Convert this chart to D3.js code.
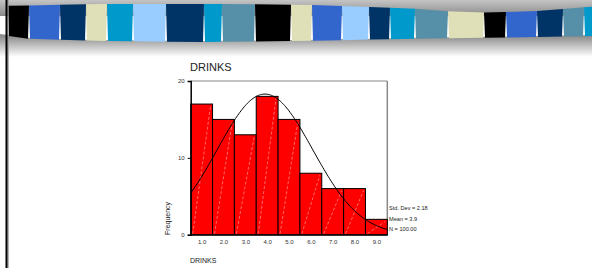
<!DOCTYPE html>
<html>
<head>
<meta charset="utf-8">
<script src="https://d3js.org/d3.v7.min.js"></script>
<style>
  body { margin: 0; background: #fff; }
  #chart { width: 592px; height: 268px; }
  text { font-family: "Liberation Sans", Arial, sans-serif; }
</style>
</head>
<body>
<div id="chart"></div>
<script>
// histogram data
const bins = [1, 2, 3, 4, 5, 6, 7, 8, 9];
const counts = [17, 15, 13, 18, 15, 8, 6, 6, 2];
const xTicks = ["1.0", "2.0", "3.0", "4.0", "5.0", "6.0", "7.0", "8.0", "9.0"];
const yTicks = [0, 10, 20];
const stats = ["Std. Dev = 2.18", "Mean = 3.9", "N = 100.00"];
const mean = 3.9, sd = 2.18, n = 100;

// banner decoration
const bannerColors = ["#000000", "#3366cc", "#003366", "#e0e0b8", "#0099cc", "#99ccff", "#003366",
  "#0099cc", "#5590a8", "#000000", "#e0e0b8", "#3366cc", "#99ccff", "#003366", "#0099cc",
  "#5590a8", "#e0e0b8", "#000000", "#3366cc", "#003366", "#5590a8", "#0099cc"];
const bannerEdges = [8, 29, 60, 86, 107, 133, 166, 204, 222, 255, 291, 312, 342, 369, 390,
  415, 448, 484, 506, 537, 563, 584, 600];

const W = 592, H = 268;
const svg = d3.select("#chart").append("svg")
  .attr("width", W).attr("height", H);

const defs = svg.append("defs");
const g1 = defs.append("linearGradient").attr("id", "topband")
  .attr("x1", 0).attr("y1", 0).attr("x2", 0).attr("y2", 1);
g1.append("stop").attr("offset", "0%").attr("stop-color", "#c4c4c4");
g1.append("stop").attr("offset", "100%").attr("stop-color", "#8a8a8a");
const g2 = defs.append("linearGradient").attr("id", "shadow")
  .attr("gradientUnits", "userSpaceOnUse")
  .attr("x1", 0).attr("y1", 36).attr("x2", 0).attr("y2", 57);
g2.append("stop").attr("offset", "0%").attr("stop-color", "#8c8c8c");
g2.append("stop").attr("offset", "100%").attr("stop-color", "#ffffff");

// wavy edges of the strip
const topY = d3.scaleLinear().domain([0, 100, 220, 320, 420, 470, 540, 600]).range([6, 4, 4, 5, 9, 13, 11, 6]);
const botY = d3.scaleLinear().domain([0, 30, 100, 200, 300, 400, 470, 600]).range([35, 39, 41, 42, 41, 39, 38, 36]);

svg.append("rect").attr("x", 0).attr("y", 0).attr("width", W).attr("height", 16)
  .attr("fill", "url(#topband)");

const shadowPts = d3.range(0, W + 1, 8).map(x => [x, botY(x) - 1]);
svg.append("path")
  .attr("d", d3.line()(shadowPts.concat([[W, 58], [0, 58]])) + "Z")
  .attr("fill", "url(#shadow)");

svg.append("g").selectAll("path")
  .data(bannerColors)
  .join("path")
  .attr("fill", d => d)
  .attr("d", (d, i) => {
    const a = bannerEdges[i], b = bannerEdges[i + 1];
    return d3.line()([[a, topY(a)], [b, topY(b)], [b - 1, botY(b)], [a + 1, botY(a)]]) + "Z";
  });

// left border line
svg.append("rect").attr("x", 5.5).attr("y", 0).attr("width", 2.2).attr("height", H).attr("fill", "#000");
svg.append("rect").attr("x", 7.7).attr("y", 0).attr("width", 1).attr("height", H).attr("fill", "#999");

// chart
const x = d3.scaleLinear().domain([0.5, 9.5]).range([190.7, 387.3]);
const y = d3.scaleLinear().domain([0, 20]).range([234.7, 81]);

// frame
svg.append("line").attr("x1", x(0.5)).attr("x2", x(9.5)).attr("y1", y(20)).attr("y2", y(20))
  .attr("stroke", "#888").attr("stroke-width", 1);
svg.append("line").attr("x1", x(9.5)).attr("x2", x(9.5)).attr("y1", y(20)).attr("y2", y(0))
  .attr("stroke", "#888").attr("stroke-width", 1.5);

// bars
const bars = svg.append("g");
bars.selectAll("rect")
  .data(bins)
  .join("rect")
  .attr("x", d => x(d - 0.5))
  .attr("width", d => x(d + 0.5) - x(d - 0.5))
  .attr("y", (d, i) => y(counts[i]))
  .attr("height", (d, i) => y(0) - y(counts[i]))
  .attr("fill", "#ff0000")
  .attr("stroke", "#000")
  .attr("stroke-width", 1);

bars.selectAll("line")
  .data(bins)
  .join("line")
  .attr("x1", d => x(d - 0.5) + 2)
  .attr("y1", y(0) - 1)
  .attr("x2", d => x(d + 0.5) - 2)
  .attr("y2", (d, i) => y(counts[i]) + 2)
  .attr("stroke", "#ffb0b0")
  .attr("stroke-width", 0.6)
  .attr("stroke-dasharray", "3,2");

// fitted normal curve
const curvePts = d3.range(0.5, 9.501, 0.05).map(v =>
  [v, n / (sd * Math.sqrt(2 * Math.PI)) * Math.exp(-0.5 * Math.pow((v - mean) / sd, 2))]);
svg.append("path")
  .datum(curvePts)
  .attr("d", d3.line().x(d => x(d[0])).y(d => y(d[1])))
  .attr("fill", "none")
  .attr("stroke", "#000")
  .attr("stroke-width", 1);

// axes
const yAxis = svg.append("g").attr("transform", `translate(${x(0.5)},0)`)
  .call(d3.axisLeft(y).tickValues(yTicks).tickSize(3).tickFormat(d3.format("d")));
yAxis.select(".domain").attr("stroke", "#000").attr("stroke-width", 1.5);
yAxis.selectAll(".tick text").attr("font-size", 6).attr("fill", "#333")
  .attr("font-family", "Liberation Sans, Arial, sans-serif");

const xAxis = svg.append("g").attr("transform", `translate(0,${y(0)})`)
  .call(d3.axisBottom(x).tickValues(bins).tickSize(0).tickPadding(5).tickFormat((d, i) => xTicks[i]));
xAxis.select(".domain").attr("stroke", "#000").attr("stroke-width", 1.2);
xAxis.selectAll(".tick text").attr("font-size", 6).attr("fill", "#333")
  .attr("font-family", "Liberation Sans, Arial, sans-serif");

// titles
svg.append("text").attr("x", 190).attr("y", 71).attr("font-size", 11).attr("fill", "#222").text("DRINKS");
svg.append("text").attr("x", 190).attr("y", 263).attr("font-size", 7).attr("fill", "#222").text("DRINKS");
svg.append("text").attr("transform", "translate(169.5,235) rotate(-90)")
  .attr("font-size", 7).attr("fill", "#222").text("Frequency");

svg.append("g").selectAll("text")
  .data(stats)
  .join("text")
  .attr("x", 389)
  .attr("y", (d, i) => 210 + i * 10.5)
  .attr("font-size", 5.6)
  .attr("fill", "#222")
  .text(d => d);
</script>
</body>
</html>
